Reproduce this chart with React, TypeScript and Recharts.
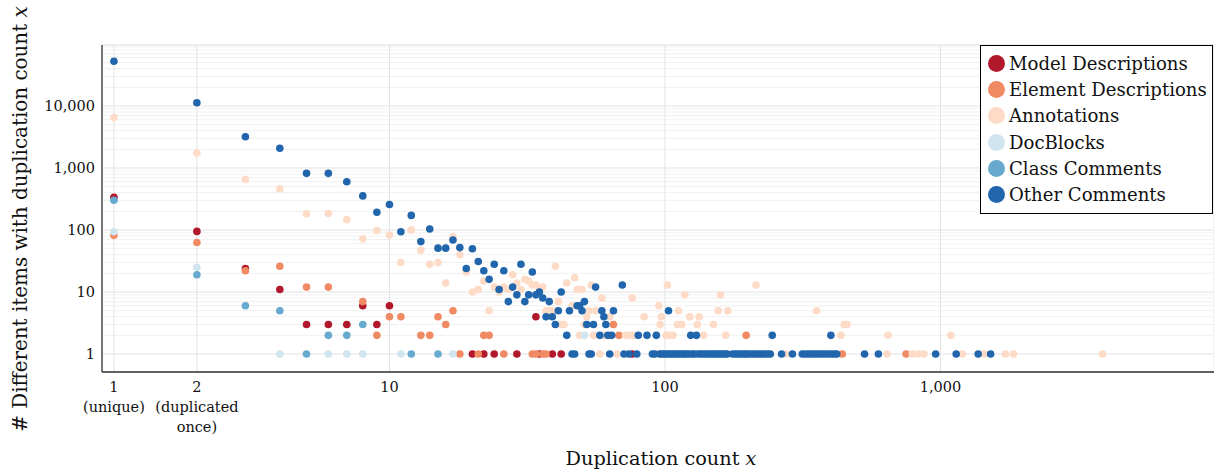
import React from "react"
import { CartesianGrid, Scatter, ScatterChart, XAxis, YAxis } from "recharts"

const FONT = "'DejaVu Serif', serif"

// [duplication count x, number of items]
const modelDescriptions = [
  [1, 337], [2, 95], [3, 24], [4, 11], [5, 3], [6, 3], [7, 3], [8, 6], [9, 3], [10, 6],
  [20, 1], [22, 1], [24, 1], [29, 1], [34, 4], [35, 1], [39, 1], [42, 1], [76, 1],
]

const elementDescriptions = [
  [1, 82], [2, 63], [3, 22], [4, 26], [5, 12], [6, 12], [8, 7], [9, 2], [10, 4], [11, 4],
  [13, 2], [14, 2], [15, 4], [16, 3], [17, 5], [18, 1], [21, 1], [22, 2], [23, 2], [26, 1],
  [33, 1], [34, 1], [36, 1], [37, 1], [65, 3], [68, 2], [96, 1], [197, 2], [440, 1], [750, 1],
]

const annotations = [
  [1, 6500], [2, 1740], [3, 655], [4, 460], [5, 183], [6, 185], [7, 147], [8, 72], [9, 98],
  [10, 83], [11, 30], [12, 100], [13, 47], [14, 28], [15, 30], [16, 14], [17, 78], [18, 40],
  [19, 21], [20, 10], [21, 11], [22, 15], [23, 5], [24, 12], [25, 10], [26, 12], [27, 11],
  [28, 19], [29, 14], [30, 11], [31, 16], [32, 15], [33, 13], [34, 13], [35, 11], [36, 12],
  [37, 5], [38, 5], [39, 5], [40, 26], [41, 7], [42, 3], [43, 3], [44, 14], [46, 6], [47, 17],
  [48, 11], [49, 2], [50, 11], [51, 3], [52, 4], [53, 5], [54, 13], [55, 2], [56, 5], [58, 1],
  [59, 8], [60, 2], [63, 4], [67, 1], [72, 2], [74, 2], [76, 8], [77, 2], [84, 4], [95, 6],
  [96, 3], [97, 4], [98, 1], [101, 2], [102, 13], [104, 2], [107, 2], [111, 3], [112, 5],
  [115, 3], [118, 9], [123, 4], [131, 3], [133, 4], [138, 2], [150, 3], [156, 5], [159, 9],
  [166, 2], [169, 5], [198, 1], [210, 1], [214, 13], [275, 1], [355, 5], [435, 2], [447, 3],
  [458, 3], [640, 1], [645, 2], [790, 1], [830, 1], [870, 1], [1090, 2], [1200, 1], [1440, 1],
  [1720, 1], [1840, 1], [3870, 1],
]

const docBlocks = [
  [1, 94], [2, 25], [4, 1], [6, 1], [7, 1], [8, 1], [11, 1], [17, 1], [51, 2],
]

const classComments = [
  [1, 302], [2, 19], [3, 6], [4, 5], [5, 1], [6, 2], [7, 2], [8, 3], [12, 1], [15, 1],
]

const otherComments = [
  [1, 52600], [2, 11300], [3, 3200], [4, 2080], [5, 820], [6, 820], [7, 600], [8, 355],
  [9, 193], [10, 258], [11, 94], [12, 172], [13, 65], [14, 104], [15, 51], [16, 51], [17, 69],
  [18, 52], [19, 24], [20, 50], [21, 31], [22, 22], [23, 16], [24, 28], [25, 11], [26, 22],
  [27, 7], [28, 12], [29, 9], [30, 28], [31, 7], [32, 9], [33, 21], [34, 9], [35, 10], [36, 8],
  [37, 4], [38, 7], [39, 4], [40, 3], [41, 5], [42, 10], [44, 2], [45, 5], [46, 1], [47, 1],
  [48, 6], [49, 6], [50, 5], [51, 7], [52, 3], [53, 1], [54, 1], [55, 3], [56, 12], [58, 2],
  [59, 5], [60, 4], [61, 3], [62, 2], [63, 1], [64, 2], [65, 5], [70, 13], [71, 1], [74, 1],
  [79, 1], [80, 2], [86, 2], [90, 1], [92, 1], [93, 2], [96, 1], [98, 1], [100, 1], [102, 1],
  [103, 5], [104, 1], [106, 1], [108, 1], [110, 1], [112, 1], [114, 1], [116, 1], [118, 1],
  [120, 1], [123, 1], [124, 2], [126, 1], [128, 1], [130, 2], [132, 1], [135, 1], [138, 1],
  [141, 1], [144, 1], [147, 1], [150, 1], [153, 1], [156, 1], [159, 1], [162, 1], [165, 1],
  [168, 1], [176, 1], [180, 1], [184, 1], [188, 1], [192, 1], [196, 1], [200, 1], [205, 1],
  [210, 1], [215, 1], [220, 1], [225, 1], [230, 1], [236, 1], [241, 1], [245, 2], [265, 1],
  [290, 1], [315, 1], [322, 1], [330, 1], [338, 1], [346, 1], [355, 1], [364, 1], [373, 1],
  [382, 1], [392, 1], [400, 2], [402, 1], [412, 1], [420, 1], [530, 1], [595, 1], [960, 1],
  [1140, 1], [1370, 1], [1520, 1],
]

const seriesNames = [
  "Model Descriptions",
  "Element Descriptions",
  "Annotations",
  "DocBlocks",
  "Class Comments",
  "Other Comments",
]
const seriesColors = ["#b2182b", "#ef8a62", "#fddbc7", "#d1e5f0", "#67a9cf", "#2166ac"]
const seriesData = [
  modelDescriptions,
  elementDescriptions,
  annotations,
  docBlocks,
  classComments,
  otherComments,
]

const xTicks = [1, 2, 10, 100, 1000]
const xTickLabels = [["1", "(unique)"], ["2", "(duplicated", "once)"], ["10"], ["100"], ["1,000"]]
const yTicks = [1, 10, 100, 1000, 10000]
const yMinorTicks = [
  2, 3, 4, 5, 6, 7, 8, 9,
  20, 30, 40, 50, 60, 70, 80, 90,
  200, 300, 400, 500, 600, 700, 800, 900,
  2000, 3000, 4000, 5000, 6000, 7000, 8000, 9000,
  20000, 30000, 40000, 50000, 60000, 70000, 80000, 90000,
]

const X_DOMAIN = [0.905, 9830]
const Y_DOMAIN = [0.513, 96300]

function XTick(props: any) {
  const { x, y, payload } = props
  const i = xTicks.indexOf(payload.value)
  const lines = i >= 0 ? xTickLabels[i] : [String(payload.value)]
  return (
    <text x={x} y={y} textAnchor="middle" fontFamily={FONT} fontSize={14.5} fill="#111">
      {lines.map((line, k) => (
        <tspan key={k} x={x} dy={k === 0 ? 19.7 : 20.2}>
          {line}
        </tspan>
      ))}
    </text>
  )
}

function XTitle(props: any) {
  const vb = props.viewBox || { x: 102, y: 372, width: 1112 }
  return (
    <text x={vb.x + vb.width / 2 + 3} y={vb.y + 93} textAnchor="middle" fontFamily={FONT} fontSize={19.3} fill="#111">
      Duplication count <tspan fontStyle="italic">x</tspan>
    </text>
  )
}

function YTitle() {
  return (
    <text x={27} y={219} transform="rotate(-90, 27, 219)" textAnchor="middle" fontFamily={FONT} fontSize={19.9} fill="#111">
      # Different items with duplication count <tspan fontStyle="italic">x</tspan>
    </text>
  )
}

const dot = (color: string) => (props: any) => <circle cx={props.cx} cy={props.cy} r={3.8} fill={color} />

function LegendBox() {
  return (
    <div
      style={{
        position: "absolute",
        left: 980,
        top: 45,
        width: 231,
        height: 163,
        border: "1px solid #000",
        background: "#fff",
        paddingTop: 4,
        boxSizing: "content-box",
        fontFamily: FONT,
        fontSize: 18.1,
        color: "#111",
      }}
    >
      {seriesNames.map((name, i) => (
        <div key={name} style={{ display: "flex", alignItems: "center", height: 26.3, whiteSpace: "nowrap" }}>
          <span
            style={{
              display: "inline-block",
              width: 17,
              height: 17,
              borderRadius: "50%",
              background: seriesColors[i],
              marginLeft: 6.5,
              marginRight: 4.5,
            }}
          />
          {name}
        </div>
      ))}
    </div>
  )
}

export default function App() {
  return (
    <div style={{ position: "absolute", left: 0, top: 0, width: 1214, height: 470, background: "#fff" }}>
      <ScatterChart width={1214} height={470} margin={{ top: 45, right: 0, bottom: 0, left: 0 }}>
        <CartesianGrid yAxisId="minor" vertical={false} stroke="#f1f1f1" />
        <CartesianGrid stroke="#e3e3e3" />
        <XAxis
          type="number"
          dataKey="x"
          scale="log"
          domain={X_DOMAIN}
          allowDataOverflow
          ticks={xTicks}
          interval={0}
          height={98}
          tickSize={0}
          tickMargin={0}
          tickLine={false}
          axisLine={{ stroke: "#333", strokeWidth: 1.3 }}
          tick={<XTick />}
          label={<XTitle />}
        />
        <YAxis
          type="number"
          dataKey="y"
          scale="log"
          domain={Y_DOMAIN}
          allowDataOverflow
          ticks={yTicks}
          interval={0}
          width={102}
          tickSize={0}
          tickMargin={7}
          tickLine={false}
          axisLine={{ stroke: "#333", strokeWidth: 1.3 }}
          tick={{ fontFamily: FONT, fontSize: 14.5, fill: "#111" }}
          tickFormatter={(v) => v.toLocaleString("en-US")}
          label={<YTitle />}
        />
        <YAxis
          yAxisId="minor"
          type="number"
          dataKey="y"
          scale="log"
          domain={Y_DOMAIN}
          allowDataOverflow
          ticks={yMinorTicks}
          interval={0}
          hide
        />
        {seriesData.map((points, i) => (
          <Scatter
            key={seriesNames[i]}
            name={seriesNames[i]}
            data={points.map(([x, y]) => ({ x, y }))}
            fill={seriesColors[i]}
            shape={dot(seriesColors[i])}
            isAnimationActive={false}
          />
        ))}
      </ScatterChart>
      <LegendBox />
    </div>
  )
}
